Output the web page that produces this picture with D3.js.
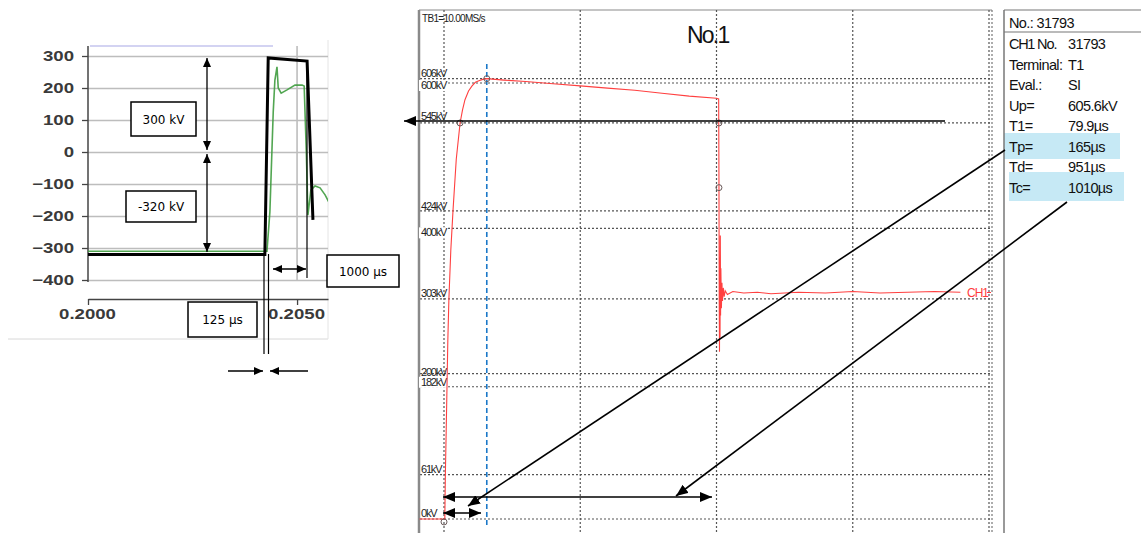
<!DOCTYPE html>
<head>
  <meta charset="utf-8">
  <title>impulse comparison</title>
  <script src="https://cdn.jsdelivr.net/npm/d3@7"></script>
  <style>
    body { margin: 0; background: #fff; }
    text { font-family: "Liberation Sans", Arial, sans-serif; }
  </style>
</head>
<body>
<script>
// left chart: measured trace (green) and idealised impulse (black), time in s, voltage in kV
var leftTime = [0.2000, 0.20428, 0.20435, 0.20443, 0.20447, 0.20452, 0.20455, 0.20462, 0.20476, 0.20495,
                0.20512, 0.20517, 0.20522, 0.20526, 0.20533, 0.20543, 0.20555, 0.20567, 0.20577];
var leftKv = [-310, -310, -187, 125, 225, 266, 200, 184, 194, 209,
              209, 206, 6, -197, -119, -106, -112, -134, -159];
var idealTime = [0.2000, 0.20423, 0.20431, 0.20524, 0.20538];
var idealKv = [-320, -320, 294, 284, -212];
var leftTicksY = [-400, -300, -200, -100, 0, 100, 200, 300];
var leftTicksX = [0.2000, 0.2050];

// scope record No.1: time in us, voltage in kV
var scopeT = [-90, -10, 3, 5, 8, 11, 14, 18, 25, 33, 45, 59, 68, 77, 90, 103, 115, 128, 142, 157,
              220, 300, 400, 500, 600, 700, 800, 900, 1000, 1008,
              1009, 1010, 1011, 1012, 1013, 1014, 1015, 1016, 1018, 1020, 1022, 1025, 1028, 1032, 1040,
              1060, 1100, 1150, 1200, 1300, 1400, 1500, 1600, 1700, 1800, 1895];
var scopeKv = [0, 0, 0, 61, 120, 182, 245, 303, 370, 424, 495, 545, 563, 577, 589, 596, 601, 603, 605, 606,
               604, 602, 599, 596, 593, 590, 586, 582, 579, 578,
               470, 300, 230, 360, 250, 390, 280, 345, 290, 325, 300, 318, 306, 314, 309,
               313, 311, 312, 310, 312, 311, 313, 311, 312, 313, 312];
var gridT = [0, 500, 1000, 1500, 2000];
var gridKv = [0, 200, 400, 600];
var levelKv = [606, 600, 545, 424, 400, 303, 200, 182, 61, 0];
var levelLabel = ["606kV", "600kV", "545kV", "424kV", "400kV", "303kV", "200kV", "182kV", "61kV", "0kV"];
var markerT = [59, 157, 1009, 1009, 0];
var markerKv = [545, 606, 545, 456, -4];

// result panel
var panelKeys = ["CH1", "Terminal:", "Eval.:", "Up=", "T1=", "Tp=", "Td=", "Tc="];
var panelVals = ["31793", "T1", "SI", "605.6kV", "79.9\u00b5s", "165\u00b5s", "951\u00b5s", "1010\u00b5s"];

var svg = d3.select("body").append("svg")
    .attr("width", 1141).attr("height", 533)
    .style("display", "block");

var defs = svg.append("defs");
function addMarker(id, w, h) {
    defs.append("marker")
        .attr("id", id)
        .attr("markerUnits", "userSpaceOnUse")
        .attr("markerWidth", w).attr("markerHeight", h)
        .attr("refX", w).attr("refY", h / 2)
        .attr("orient", "auto-start-reverse")
        .append("path")
        .attr("d", "M0,0L" + w + "," + (h / 2) + "L0," + h + "Z")
        .attr("fill", "#000");
}
addMarker("headS", 9, 8);
addMarker("headB", 12, 10);

function arrow(g, x1, y1, x2, y2, head, both, w) {
    var l = g.append("line")
        .attr("x1", x1).attr("y1", y1).attr("x2", x2).attr("y2", y2)
        .attr("stroke", "#000").attr("stroke-width", w || 1.5)
        .attr("marker-end", "url(#" + head + ")");
    if (both) l.attr("marker-start", "url(#" + head + ")");
    return l;
}

// ---------------- left chart ----------------
var xL = d3.scaleLinear().domain([0.2000, 0.20574]).range([88, 328]);
var yL = d3.scaleLinear().domain([-400, 300]).range([280, 56]);
var left = svg.append("g");

left.append("line").attr("x1", 8).attr("x2", 328).attr("y1", 339).attr("y2", 339)
    .attr("stroke", "#d8d8d8");
left.append("line").attr("x1", 328).attr("x2", 328).attr("y1", 40).attr("y2", 339)
    .attr("stroke", "#e4e4e4");
left.append("line").attr("x1", 90).attr("x2", 273).attr("y1", 46).attr("y2", 46)
    .attr("stroke", "#c4c4ee").attr("stroke-width", 1.5);

// horizontal grid
left.append("g").attr("transform", "translate(88,0)")
    .call(d3.axisLeft(yL).tickValues(leftTicksY).tickSize(-240).tickFormat(""))
    .call(function(g) {
        g.select(".domain").remove();
        g.selectAll("line").attr("stroke", "#bdbdbd").attr("stroke-width", 1.6);
    });
left.append("line").attr("x1", xL(0.2050)).attr("x2", xL(0.2050)).attr("y1", 46).attr("y2", 280)
    .attr("stroke", "#bdbdbd").attr("stroke-width", 1.6);

var sx = 1.33;
left.append("g").attr("transform", "translate(88,0)")
    .call(d3.axisLeft(yL).tickValues(leftTicksY).tickSize(6).tickPadding(8).tickSizeOuter(0))
    .call(function(g) {
        g.select(".domain").attr("d", "M0,46V282").attr("stroke", "#444").attr("stroke-width", 1.5);
        g.selectAll(".tick line").attr("stroke", "#444").attr("stroke-width", 1.3);
        g.selectAll("text")
            .attr("x", -14 / sx)
            .attr("transform", "scale(" + sx + ",1)")
            .attr("fill", "#3a3a3a")
            .style("font-size", "14px").style("font-weight", "bold");
    });

left.append("g").attr("transform", "translate(0,299)")
    .call(d3.axisBottom(xL).tickValues(leftTicksX).tickFormat(d3.format(".4f"))
        .tickSize(6).tickSizeOuter(0))
    .call(function(g) {
        g.select(".domain").attr("stroke", "#444").attr("stroke-width", 1.3);
        g.selectAll(".tick line").attr("stroke", "#444").attr("stroke-width", 1.3);
        g.selectAll(".tick").each(function(d) {
            d3.select(this).select("text")
                .attr("x", -1 / sx).attr("y", 10)
                .attr("transform", "scale(" + sx + ",1)")
                .attr("fill", "#3a3a3a")
                .style("font-size", "14px").style("font-weight", "bold");
        });
    });

left.append("clipPath").attr("id", "leftClip")
    .append("rect").attr("x", 88).attr("y", 40).attr("width", 240).attr("height", 260);

var lineL = d3.line().x(function(d) { return xL(d[0]); }).y(function(d) { return yL(d[1]); });
left.append("path")
    .attr("clip-path", "url(#leftClip)")
    .attr("d", lineL(d3.zip(leftTime, leftKv)))
    .attr("fill", "none").attr("stroke", "#3f9c3f").attr("stroke-width", 1.6)
    .attr("stroke-opacity", 0.9);
left.append("path")
    .attr("d", lineL(d3.zip(idealTime, idealKv)))
    .attr("fill", "none").attr("stroke", "#000").attr("stroke-width", 3)
    .attr("stroke-linejoin", "miter");

// dimension lines
arrow(left, 207, 58, 207, 150, "headS", true, 1.3);
arrow(left, 207, 154, 207, 252, "headS", true, 1.3);
arrow(left, 273, 269, 306, 269, "headS", true, 1.3);
left.append("line").attr("x1", 307).attr("x2", 307).attr("y1", 62).attr("y2", 278)
    .attr("stroke", "#000").attr("stroke-width", 1.2);
[264, 268.5].forEach(function(x) {
    left.append("line").attr("x1", x).attr("x2", x).attr("y1", 254).attr("y2", 354)
        .attr("stroke", "#000").attr("stroke-width", 1.2);
});
arrow(left, 228, 371, 263, 371, "headS", false, 1.3);
arrow(left, 308, 371, 270, 371, "headS", false, 1.3);

var boxes = [
    { x: 131, y: 102, w: 65, h: 34, t: "300 kV" },
    { x: 126, y: 191, w: 70, h: 31, t: "-320 kV" },
    { x: 327, y: 255, w: 72, h: 32, t: "1000 \u00b5s" },
    { x: 188, y: 302, w: 69, h: 35, t: "125 \u00b5s" }
];
boxes.forEach(function(b) {
    left.append("rect").attr("x", b.x).attr("y", b.y).attr("width", b.w).attr("height", b.h)
        .attr("fill", "#fff").attr("stroke", "#000").attr("stroke-width", 1.5);
    left.append("text").attr("x", b.x + b.w / 2).attr("y", b.y + b.h / 2 + 4.5)
        .attr("text-anchor", "middle")
        .style("font-family", "'DejaVu Sans', sans-serif").style("font-size", "12px")
        .text(b.t);
});

// ---------------- scope ----------------
var xS = d3.scaleLinear().domain([0, 2000]).range([444, 989]);
var yS = d3.scaleLinear().domain([0, 600]).range([519, 83]);
var scope = svg.append("g");

scope.append("line").attr("x1", 419).attr("x2", 992).attr("y1", 10).attr("y2", 10)
    .attr("stroke", "#8a8a8a").attr("stroke-width", 1.2);

scope.selectAll("line.vg").data(gridT).enter().append("line")
    .attr("class", "vg")
    .attr("x1", function(d) { return xS(d); }).attr("x2", function(d) { return xS(d); })
    .attr("y1", 10).attr("y2", 533)
    .attr("stroke", "#555").attr("stroke-width", 1.2).attr("stroke-dasharray", "2,2");
scope.append("line").attr("x1", 992).attr("x2", 992).attr("y1", 10).attr("y2", 533)
    .attr("stroke", "#777").attr("stroke-width", 1.2).attr("stroke-dasharray", "2,2");

var hLevels = gridKv.concat(levelKv.filter(function(v) { return gridKv.indexOf(v) < 0; }));
scope.selectAll("line.hg").data(hLevels).enter().append("line")
    .attr("class", "hg")
    .attr("x1", 420).attr("x2", 992)
    .attr("y1", function(d) { return yS(d); }).attr("y2", function(d) { return yS(d); })
    .attr("stroke", "#555").attr("stroke-width", 1.2).attr("stroke-dasharray", "2,2");

scope.append("line").attr("x1", 419).attr("x2", 419).attr("y1", 10).attr("y2", 533)
    .attr("stroke", "#8a8a8a").attr("stroke-width", 2.5);

// level labels
var labelDy = { 606: -2, 600: 6, 545: -3, 424: -1, 400: 8, 303: -2, 200: 2, 182: -1, 61: -2, 0: -2 };
levelKv.forEach(function(v, i) {
    var y = yS(v) + labelDy[v];
    var t = scope.append("text").attr("x", 421).attr("y", y)
        .style("font-size", "11px").style("letter-spacing", "-1.2px").attr("fill", "#222")
        .text(levelLabel[i]);
    if (v === 600 || v === 400 || v === 182) {
        var bb = t.node().getBBox();
        scope.insert("rect", function() { return t.node(); })
            .attr("x", bb.x - 2).attr("y", bb.y + 1).attr("width", bb.width + 2).attr("height", bb.height - 1)
            .attr("fill", "#fff");
    }
});

scope.append("text").attr("x", 422).attr("y", 22)
    .style("font-size", "10px").style("letter-spacing", "-0.7px").attr("fill", "#222")
    .text("TB1=10.00MS/s");
scope.append("text").attr("x", 687).attr("y", 43)
    .style("font-size", "23px").style("letter-spacing", "-1.8px").attr("fill", "#111")
    .text("No.1");

// Tp cursor
scope.append("line").attr("x1", xS(157)).attr("x2", xS(157)).attr("y1", 64).attr("y2", 525)
    .attr("stroke", "#1b78c8").attr("stroke-width", 1.6).attr("stroke-dasharray", "5,3");

var lineS = d3.line().x(function(d) { return xS(d[0]); }).y(function(d) { return yS(d[1]); });
scope.append("path")
    .attr("d", lineS(d3.zip(scopeT, scopeKv)))
    .attr("fill", "none").attr("stroke", "#ff4040").attr("stroke-width", 1.1);

scope.selectAll("circle.mk").data(d3.zip(markerT, markerKv)).enter().append("circle")
    .attr("class", "mk")
    .attr("cx", function(d) { return xS(d[0]); }).attr("cy", function(d) { return yS(d[1]); })
    .attr("r", 3).attr("fill", "none").attr("stroke", "#6a5a5a").attr("stroke-width", 1);

scope.append("text").attr("x", 967).attr("y", 297)
    .style("font-size", "12px").style("letter-spacing", "-1px").attr("fill", "#ff3b3b")
    .text("CH1");
scope.append("line").attr("x1", 987).attr("x2", 991).attr("y1", 292.5).attr("y2", 292.5)
    .attr("stroke", "#ff3b3b");

// ---------------- result panel ----------------
var panel = svg.append("g");
var pFont = "14.5px", pSpace = "-0.6px";
panel.append("rect").attr("x", 1004).attr("y", 133).attr("width", 116).attr("height", 26).attr("fill", "#c6e9f5");
panel.append("rect").attr("x", 1009).attr("y", 172).attr("width", 115).attr("height", 29).attr("fill", "#c6e9f5");
panel.append("line").attr("x1", 1004).attr("x2", 1004).attr("y1", 10).attr("y2", 533)
    .attr("stroke", "#777").attr("stroke-width", 1.5);
panel.append("line").attr("x1", 1004).attr("x2", 1141).attr("y1", 10).attr("y2", 10)
    .attr("stroke", "#777").attr("stroke-width", 1.2);
panel.append("line").attr("x1", 1004).attr("x2", 1141).attr("y1", 32).attr("y2", 32)
    .attr("stroke", "#777").attr("stroke-width", 1.2);
panel.append("text").attr("x", 1009).attr("y", 28)
    .style("font-size", pFont).style("letter-spacing", pSpace).attr("fill", "#111")
    .text("No.: 31793");
panelKeys.forEach(function(k, i) {
    var y = 49 + i * 20.5;
    panel.append("text").attr("x", 1009).attr("y", y)
        .style("font-size", pFont).style("letter-spacing", i === 0 ? "-1.3px" : pSpace).attr("fill", "#111")
        .text(k);
    if (i === 0) {
        panel.append("text").attr("x", 1037).attr("y", y)
            .style("font-size", pFont).style("letter-spacing", "-1px").attr("fill", "#111")
            .text("No.");
    }
    panel.append("text").attr("x", 1068).attr("y", y)
        .style("font-size", pFont).style("letter-spacing", pSpace).attr("fill", "#111")
        .text(panelVals[i]);
});

// ---------------- scope annotations ----------------
var ann = svg.append("g");
arrow(ann, 945, 121, 404, 121, "headB", false, 1.6);
arrow(ann, 1005, 150, 468, 506, "headB", false, 1.6);
arrow(ann, 1067, 202, 676, 496, "headB", false, 1.6);
arrow(ann, 443, 497, 712, 497, "headB", true, 1.6);
arrow(ann, 443, 513, 481, 513, "headB", true, 1.6);
</script>
</body>
